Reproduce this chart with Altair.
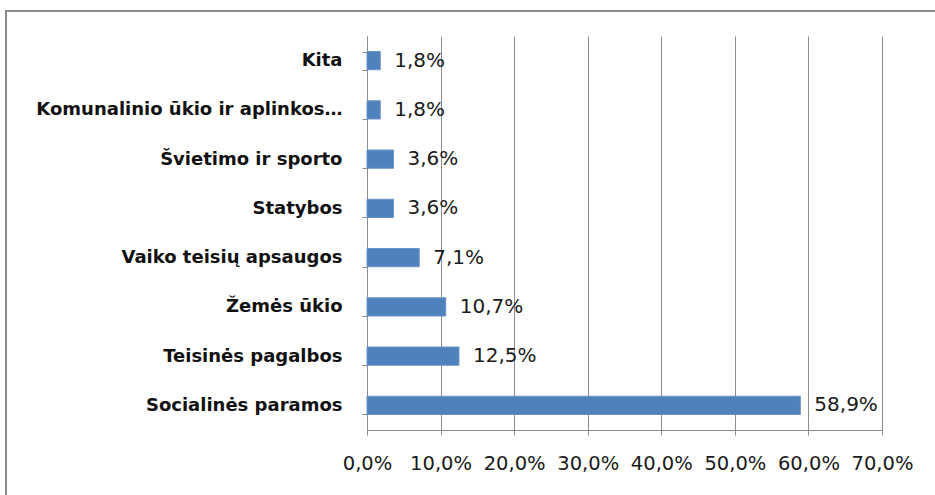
import altair as alt
import pandas as pd

categories = ["Kita", "Komunalinio ūkio ir aplinkos…", "Švietimo ir sporto", "Statybos",
              "Vaiko teisių apsaugos", "Žemės ūkio", "Teisinės pagalbos", "Socialinės paramos"]
values = [1.8, 1.8, 3.6, 3.6, 7.1, 10.7, 12.5, 58.9]
ticks = [0, 10, 20, 30, 40, 50, 60, 70]

df = pd.DataFrame({"cat": categories, "v": values})

PL, PT = 367, 36
W, H = 515, 394
GRID = "#8c8c8c"

x = alt.X("v:Q", scale=alt.Scale(domain=[0, 70], nice=False),
          axis=alt.Axis(values=ticks, title=None, grid=True, gridColor=GRID, gridWidth=1,
                        domainColor=GRID, tickColor=GRID, tickSize=5, labelOverlap=False,
                        labelFlush=False,
                        labelExpr="replace(format(datum.value, '.1f'), '.', ',') + '%'",
                        labelFont="DejaVu Sans", labelFontSize=19.5, labelColor="#1a1a1a",
                        labelPadding=19))
y = alt.Y("cat:N", sort=categories, scale=alt.Scale(paddingInner=0.63, paddingOuter=0.315),
          axis=alt.Axis(title=None, domainColor=GRID, tickColor=GRID, tickSize=5,
                        tickBand="extent", labelFont="DejaVu Sans", labelFontWeight="bold",
                        labelFontSize=18, labelColor="#111111", labelPadding=20,
                        labelLimit=400))

bars = alt.Chart(df).mark_bar(color="#4F81BD", stroke="#6a93c8", strokeWidth=1).encode(x=x, y=y)
labels = alt.Chart(df).transform_calculate(
    lab="replace(format(datum.v, '.1f'), '.', ',') + '%'"
).mark_text(align="left", dx=14, font="DejaVu Sans", fontSize=20, color="#1a1a1a").encode(
    x="v:Q", y=alt.Y("cat:N", sort=categories), text="lab:N")

border = alt.Chart(df).mark_rect(fill=None, stroke="#8a8a8a", strokeWidth=2).encode(
    x=alt.value(6 - PL), x2=alt.value(945 - PL), y=alt.value(11 - PT), y2=alt.value(520 - PT))

chart = alt.layer(border, bars, labels).properties(
    width=W, height=H, autosize="none",
    padding={"left": PL, "top": PT, "right": 935 - PL - W, "bottom": 495 - PT - H},
    background="white"
).configure_view(stroke=None)

chart.save("out.html", embed_options={"renderer": "svg", "actions": False})
